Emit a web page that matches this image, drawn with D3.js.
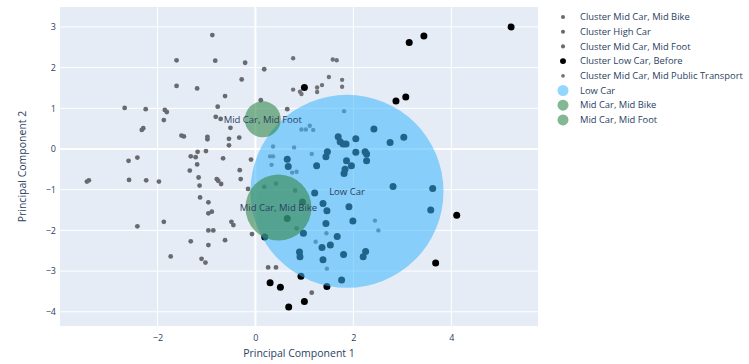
<!DOCTYPE html>
<html><head><meta charset="utf-8">
<script src="https://cdn.jsdelivr.net/npm/d3@7"></script>
<style>body{margin:0;background:#fff}text{font-family:"Open Sans",sans-serif}</style>
</head><body><svg id="c" width="749" height="364"></svg>
<script>
// ---------- data ----------
const xTicks = [-2, 0, 2, 4];
const yTicks = [-4, -3, -2, -1, 0, 1, 2, 3];
const xTitle = "Principal Component 1";
const yTitle = "Principal Component 2";

const seriesNames = ["Cluster Mid Car, Mid Bike", "Cluster High Car", "Cluster Mid Car, Mid Foot", "Cluster Low Car, Before", "Cluster Mid Car, Mid Public Transport"];

const midBikeX = [-1.16,-1.14,-0.79,-0.76,-0.70,-1.13,-0.96,-0.96,-0.89,-0.96,-0.86,-1.32,-0.96,-0.62,-1.10,-1.02,-0.49,-0.45,-0.15,-0.07,0.26,0.42,1.15,-0.30,0.42,0.18,0.81,0.84];
const midBikeY = [-0.70,-0.90,-0.74,-0.78,-0.86,-1.19,-1.31,-1.58,-1.54,-2.00,-2.00,-2.27,-2.36,-2.24,-2.70,-2.79,-1.79,-1.87,-0.98,-2.09,-2.91,-2.91,-3.53,-0.74,-0.85,-0.93,-1.02,-1.95];

const highCarX = [-1.61,-1.61,-2.67,-2.24,-1.85,-1.81,-1.87,-2.29,-2.32,-1.51,-1.46,-2.41,-2.59,-3.44,-3.40,-2.58,-2.23,-1.97,-1.87,-2.41,-1.73];
const highCarY = [2.18,1.55,1.01,0.98,0.96,0.91,0.71,0.51,0.47,0.33,0.31,-0.21,-0.29,-0.80,-0.77,-0.76,-0.77,-0.80,-1.79,-1.90,-2.64];

const midFootX = [-0.88,-0.82,-0.21,0.18,-0.28,-1.19,-0.62,0.11,-0.77,-0.81,-0.71,-0.51,-0.98,-0.98,-0.54,-0.33,-0.54,-1.18,-1.01,-1.32,-1.22,-1.19,-0.66,-0.09,-0.32,-1.34,0.65];
const midFootY = [2.80,2.17,2.12,1.96,1.71,1.49,1.30,1.20,1.04,0.79,0.74,0.52,0.30,0.24,0.25,0.28,0.09,-0.07,-0.05,-0.18,-0.20,-0.38,-0.23,-0.26,-0.52,-0.53,0.98];

const lowCarX = [5.22,3.44,3.14,3.07,2.87,1.00,4.11,3.68,0.93,0.30,0.51,1.46,1.00,0.68,
  2.42,3.03,2.75,1.69,1.73,1.79,1.85,2.05,1.47,1.44,2.05,2.24,2.27,1.86,1.96,2.27,1.83,1.81,1.25,0.65,0.67,
  2.81,3.62,3.58,1.21,1.38,1.46,1.91,1.99,1.44,0.98,1.67,1.36,1.53,0.90,0.91,1.80,1.38,2.25,2.20,1.76,0.19,0.65,0.96];
const lowCarY = [3.00,2.78,2.62,1.28,1.18,1.51,-1.63,-2.80,-3.13,-3.29,-3.40,-3.38,-3.75,-3.88,
  0.49,0.29,0.16,0.30,0.18,0.12,0.12,0.25,-0.07,-0.19,-0.08,-0.07,-0.12,-0.29,-0.41,-0.29,-0.50,-0.60,-0.41,-0.25,-0.43,
  -0.92,-0.97,-1.50,-1.08,-1.34,-1.52,-1.42,-1.77,-1.83,-2.07,-2.15,-2.42,-2.36,-2.53,-2.65,-2.59,-2.72,-2.52,-2.65,-3.22,-2.16,-1.71,-1.30];

const publicX = [0.77,1.58,1.66,1.50,1.77,1.77,1.36,1.26,1.26,0.77,0.91,0.94,1.81,0.94,1.03,1.11,1.18,0.36,0.79,1.15,0.30,0.36,0.84,1.45,1.23,1.46,2.44,2.51,0.33,0.75];
const publicY = [2.23,2.20,2.18,1.77,1.70,1.53,1.57,1.51,1.40,1.46,1.41,1.35,0.93,0.48,0.48,0.57,0.47,0.06,0.04,-0.12,-0.18,-0.18,-0.56,-2.07,-2.28,-2.94,-1.76,-2.00,-0.39,-0.58];

const bubbleNames = ["Low Car", "Mid Car, Mid Bike", "Mid Car, Mid Foot"];
const bubbleX = [1.87, 0.47, 0.15];
const bubbleY = [-1.04, -1.44, 0.73];
const bubbleSize = [193, 66, 36];

// ---------- styles ----------
const W = 749, H = 364;
const plot = {l: 60, r: 538, t: 7, b: 326};
const textColor = "#2a3f5f";
const seriesStyle = [
  {fill: "#696970", r: 2.4},
  {fill: "#696970", r: 2.4},
  {fill: "#696970", r: 2.4},
  {fill: "#000000", r: 3.5},
  {fill: "#717178", r: 2.2}
];
const bubbleStyle = [
  {fill: "rgb(58,182,253)", op: 0.55},
  {fill: "rgb(50,135,75)", op: 0.6},
  {fill: "rgb(50,135,75)", op: 0.6}
];

const svg = d3.select("#c");
const x = d3.scaleLinear().domain([-3.99, 5.77]).range([plot.l, plot.r]);
const y = d3.scaleLinear().domain([-4.35, 3.49]).range([plot.b, plot.t]);
const size = d3.scaleLinear().domain([0, 1]).range([0, 0.5]);

svg.append("rect").attr("x", plot.l).attr("y", plot.t)
  .attr("width", plot.r - plot.l).attr("height", plot.b - plot.t).attr("fill", "#E5ECF6");

// grid
const g = svg.append("g");
g.selectAll(".gx").data(xTicks).join("line")
  .attr("x1", d => x(d)).attr("x2", d => x(d)).attr("y1", plot.t).attr("y2", plot.b)
  .attr("stroke", "#fff").attr("stroke-width", d => d === 0 ? 2 : 1);
g.selectAll(".gy").data(yTicks).join("line")
  .attr("y1", d => y(d)).attr("y2", d => y(d)).attr("x1", plot.l).attr("x2", plot.r)
  .attr("stroke", "#fff").attr("stroke-width", d => d === 0 ? 2 : 1);

// axes
const xa = svg.append("g").attr("transform", `translate(0,${plot.b})`)
  .call(d3.axisBottom(x).tickValues(xTicks).tickSize(0).tickPadding(9));
const ya = svg.append("g").attr("transform", `translate(${plot.l},0)`)
  .call(d3.axisLeft(y).tickValues(yTicks).tickSize(0).tickPadding(4));
[xa, ya].forEach(a => {
  a.select(".domain").remove();
  a.selectAll("text").attr("fill", textColor).style("font-size", "9px").style("font-family", '"Open Sans",sans-serif');
});

svg.append("text").attr("x", (plot.l + plot.r) / 2).attr("y", 357).attr("text-anchor", "middle")
  .attr("fill", textColor).style("font-size", "10.5px").text(xTitle);
svg.append("text").attr("transform", `translate(26,${(plot.t + plot.b) / 2}) rotate(-90)`)
  .attr("text-anchor", "middle").attr("fill", textColor).style("font-size", "10.5px").text(yTitle);

// points
const seriesData = [
  d3.zip(midBikeX, midBikeY), d3.zip(highCarX, highCarY), d3.zip(midFootX, midFootY),
  d3.zip(lowCarX, lowCarY), d3.zip(publicX, publicY)
];
const drawOrder = [0, 1, 2, 4, 3];
drawOrder.forEach(i => {
  svg.append("g").selectAll("circle").data(seriesData[i]).join("circle")
    .attr("cx", d => x(d[0])).attr("cy", d => y(d[1])).attr("r", seriesStyle[i].r)
    .attr("fill", seriesStyle[i].fill);
});

// bubbles
const bubbles = d3.range(bubbleNames.length).map(i => ({name: bubbleNames[i], x: bubbleX[i], y: bubbleY[i], s: bubbleSize[i], st: bubbleStyle[i]}));
svg.append("g").selectAll("circle").data(bubbles).join("circle")
  .attr("cx", d => x(d.x)).attr("cy", d => y(d.y)).attr("r", d => size(d.s))
  .attr("fill", d => d.st.fill).attr("fill-opacity", d => d.st.op);
svg.append("g").selectAll("text").data(bubbles).join("text")
  .attr("x", d => x(d.x)).attr("y", d => y(d.y)).attr("dy", "0.35em").attr("text-anchor", "middle")
  .attr("fill", textColor).style("font-size", "9.5px").text(d => d.name);

// legend
const legendItems = seriesNames.map((n, i) => ({name: n, kind: "pt", st: seriesStyle[i]}))
  .concat(bubbleNames.map((n, i) => ({name: n, kind: "bub", st: bubbleStyle[i]})));
const lg = svg.append("g").selectAll("g").data(legendItems).join("g")
  .attr("transform", (d, i) => `translate(563,${17 + i * 14.7})`);
lg.append("circle").attr("r", d => d.kind === "pt" ? d.st.r * 0.85 : 5.5)
  .attr("fill", d => d.st.fill).attr("fill-opacity", d => d.kind === "pt" ? 1 : d.st.op);
lg.append("text").attr("x", 17).attr("dy", "0.35em").attr("fill", textColor)
  .style("font-size", "9.4px").text(d => d.name);
</script></body></html>
